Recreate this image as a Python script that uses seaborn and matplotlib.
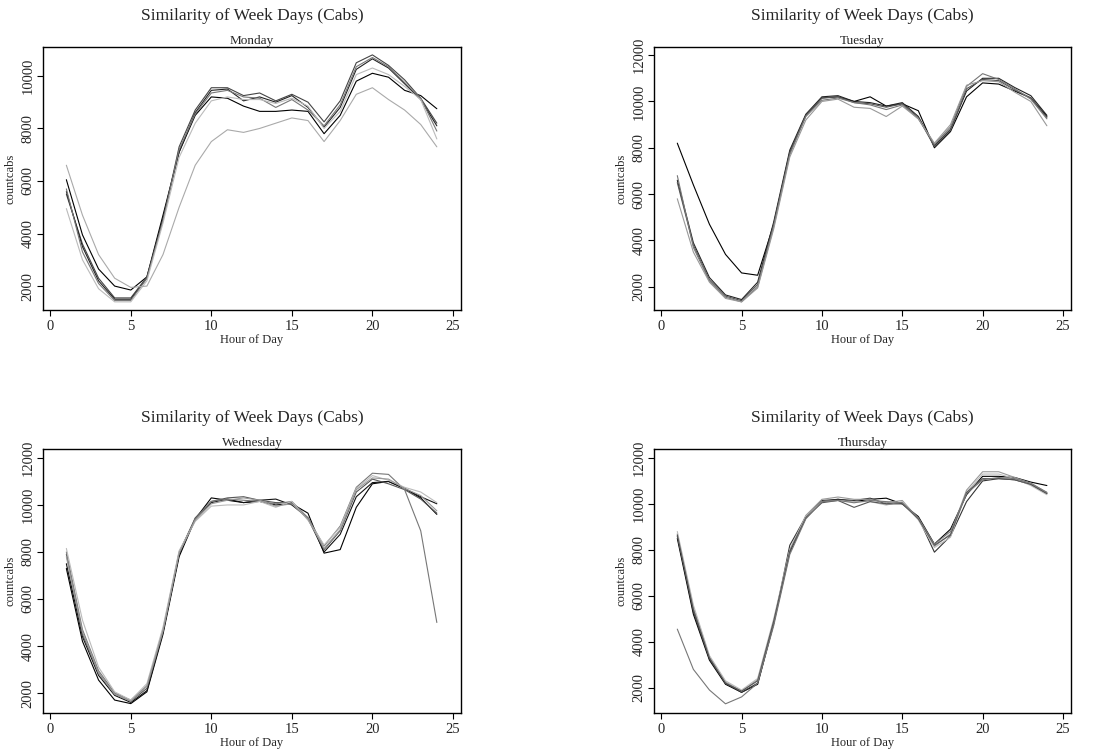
import matplotlib
matplotlib.use("Agg")
import matplotlib.pyplot as plt
import pandas as pd
import seaborn as sns

hours = [1, 2, 3, 4, 5, 6, 7, 8, 9, 10, 11, 12,
         13, 14, 15, 16, 17, 18, 19, 20, 21, 22, 23, 24]

# one list per week, counts of cabs per hour
monday = [
    [6050, 3950, 2650, 2000, 1850, 2350, 4700, 7100, 8500, 9200, 9150, 8850, 8650, 8650, 8700, 8650, 7800, 8500, 9800, 10100, 9950, 9450, 9250, 8750],
    [5500, 3600, 2300, 1550, 1550, 2350, 4500, 7300, 8700, 9550, 9550, 9250, 9350, 9050, 9300, 9000, 8250, 9050, 10500, 10800, 10400, 9850, 9150, 8200],
    [5600, 3500, 2200, 1500, 1500, 2300, 4600, 7100, 8600, 9450, 9500, 9050, 9200, 9000, 9250, 8800, 8050, 8800, 10250, 10650, 10300, 9700, 9100, 8100],
    [5700, 3300, 2100, 1450, 1450, 2300, 4500, 7200, 8550, 9350, 9450, 9200, 9150, 8800, 9100, 8700, 8100, 8900, 10350, 10700, 10350, 9750, 9150, 7900],
    [4950, 3000, 1900, 1400, 1400, 2200, 4400, 6900, 8200, 9050, 9200, 9100, 9100, 8950, 9150, 8850, 8000, 8650, 10050, 10300, 10050, 9600, 9100, 7600],
    [6600, 4700, 3200, 2300, 1950, 2000, 3200, 5000, 6600, 7500, 7950, 7850, 8000, 8200, 8400, 8300, 7500, 8300, 9300, 9550, 9100, 8700, 8150, 7300],
]
tuesday = [
    [8200, 6400, 4700, 3400, 2600, 2500, 4700, 7800, 9400, 10150, 10200, 10000, 10200, 9800, 9900, 9600, 8000, 8700, 10200, 10800, 10750, 10450, 10150, 9350],
    [6600, 3900, 2400, 1650, 1450, 2200, 4800, 7900, 9450, 10200, 10250, 10000, 9950, 9800, 9950, 9350, 8100, 8800, 10450, 11000, 11000, 10600, 10250, 9400],
    [6500, 3800, 2300, 1600, 1400, 2100, 4700, 7800, 9400, 10150, 10200, 9950, 9900, 9750, 9900, 9300, 8050, 8750, 10550, 10950, 10900, 10500, 10150, 9300],
    [6800, 3700, 2250, 1550, 1350, 2000, 4600, 7700, 9350, 10050, 10150, 9950, 9850, 9650, 9850, 9250, 8150, 8900, 10650, 11200, 10950, 10550, 10100, 9250],
    [5800, 3500, 2200, 1500, 1350, 1950, 4500, 7600, 9200, 10000, 10100, 9750, 9700, 9350, 9800, 9250, 8200, 9000, 10700, 10900, 10850, 10400, 10000, 8950],
]
wednesday = [
    [7300, 4200, 2550, 1700, 1550, 2050, 4500, 7800, 9400, 10300, 10200, 10100, 10150, 10000, 10050, 9650, 7950, 8100, 9900, 10900, 11000, 10700, 10300, 9600],
    [7500, 4400, 2750, 1900, 1600, 2100, 4600, 7900, 9400, 10100, 10250, 10100, 10200, 10250, 10000, 9450, 8000, 8750, 10350, 10950, 11000, 10700, 10350, 10050],
    [7900, 4500, 2850, 1950, 1650, 2200, 4600, 7950, 9450, 10150, 10300, 10350, 10200, 10100, 10100, 9400, 8100, 8900, 10550, 11100, 10900, 10650, 10250, 9650],
    [8000, 4700, 2950, 2000, 1700, 2300, 4700, 8000, 9400, 10150, 10250, 10200, 10150, 10050, 10150, 9450, 8250, 9100, 10750, 11350, 11300, 10650, 8900, 5000],
    [8150, 5100, 3100, 2050, 1700, 2400, 4800, 8050, 9300, 9950, 10000, 10000, 10150, 9900, 10150, 9350, 8300, 9050, 10700, 11250, 11050, 10750, 10550, 10100],
    [7800, 4600, 2850, 1950, 1650, 2300, 4650, 7950, 9350, 10050, 10200, 10300, 10200, 9950, 10050, 9400, 8150, 8950, 10650, 11150, 11100, 10700, 10400, 9750],
]
thursday = [
    [8500, 5200, 3200, 2150, 1800, 2150, 4800, 7900, 9400, 10100, 10200, 10100, 10200, 10250, 10000, 9450, 8250, 8900, 10400, 11200, 11200, 11150, 10950, 10800],
    [8600, 5300, 3250, 2200, 1800, 2200, 4800, 8200, 9450, 10150, 10200, 10150, 10250, 10000, 10050, 9400, 7900, 8600, 10100, 11000, 11100, 11050, 10850, 10450],
    [8700, 5500, 3350, 2250, 1850, 2350, 4900, 8000, 9500, 10200, 10300, 10200, 10200, 10050, 10150, 9350, 8150, 8700, 10600, 11400, 11400, 11150, 10900, 10500],
    [8800, 5600, 3400, 2300, 1900, 2400, 5000, 8000, 9450, 10100, 10150, 10100, 10100, 9950, 10100, 9300, 8100, 8550, 10500, 11300, 11300, 11100, 10800, 10400],
    [8650, 5400, 3300, 2200, 1850, 2300, 4900, 7950, 9400, 10050, 10150, 9850, 10100, 10000, 10000, 9350, 8200, 8650, 10500, 11100, 11100, 11050, 10850, 10450],
    [4550, 2800, 1900, 1300, 1600, 2200, 4700, 7800, 9350, 10100, 10150, 10050, 10150, 10100, 10050, 9400, 8250, 8800, 10450, 11050, 11150, 11100, 10900, 10500],
]

day_names = ["Monday", "Tuesday", "Wednesday", "Thursday"]
day_data = [monday, tuesday, wednesday, thursday]

# grey shades per week line
greys = {
    "Monday": ["#000000", "#444444", "#222222", "#777777", "#bbbbbb", "#aaaaaa"],
    "Tuesday": ["#000000", "#222222", "#555555", "#777777", "#999999"],
    "Wednesday": ["#000000", "#111111", "#555555", "#777777", "#bbbbbb", "#999999"],
    "Thursday": ["#000000", "#333333", "#999999", "#bbbbbb", "#555555", "#777777"],
}
ylims = {"Monday": (1090, 11100), "Tuesday": (1000, 12350),
         "Wednesday": (1150, 12380), "Thursday": (900, 12390)}
yticks = {"Monday": [2000, 4000, 6000, 8000, 10000]}

sns.set_style("ticks")
plt.rcParams['font.family'] = ['Liberation Serif', 'DejaVu Serif']

fig = plt.figure(figsize=(11.11, 7.54), dpi=100)
W, H = 1111, 754
boxes = [(43, 47, 461, 310), (654, 47, 1071, 310),
         (43, 449, 461, 713), (654, 449, 1071, 713)]

for name, weeks, (x0, y0, x1, y1) in zip(day_names, day_data, boxes):
    ax = fig.add_axes([x0 / W, 1 - y1 / H, (x1 - x0) / W, (y1 - y0) / H])
    rows = []
    for i, w in enumerate(weeks):
        for h, v in zip(hours, w):
            rows.append({"hour": h, "countcabs": v, "week": i})
    df = pd.DataFrame(rows)
    sns.lineplot(data=df, x="hour", y="countcabs", hue="week",
                 palette=greys[name], linewidth=0.8, legend=False, ax=ax)
    ax.set_xlim(-0.45, 25.5)
    ax.set_ylim(*ylims[name])
    ax.set_xticks([0, 5, 10, 15, 20, 25])
    ax.set_yticks(yticks.get(name, [2000, 4000, 6000, 8000, 10000, 12000]))
    for s in ax.spines.values():
        s.set_visible(True)
        s.set_color("black")
        s.set_linewidth(1.0)
    ax.tick_params(axis="both", direction="out", length=4, width=0.8,
                   labelsize=10.5, color="black")
    ax.tick_params(axis="x", pad=3)
    ax.tick_params(axis="y", pad=2)
    for lab in ax.get_yticklabels():
        lab.set_rotation(90)
        lab.set_va("center")
    ax.set_xlabel("Hour of Day", fontsize=9, labelpad=1)
    ax.set_ylabel("countcabs", fontsize=9, labelpad=4)
    ax.set_title(name, fontsize=9.5, pad=2)
    ax.text(0.5, 1 + 31 / (y1 - y0), "Similarity of Week Days (Cabs)",
            transform=ax.transAxes, ha="center", va="center", fontsize=12.5)

fig.savefig("out.png", dpi=100)
